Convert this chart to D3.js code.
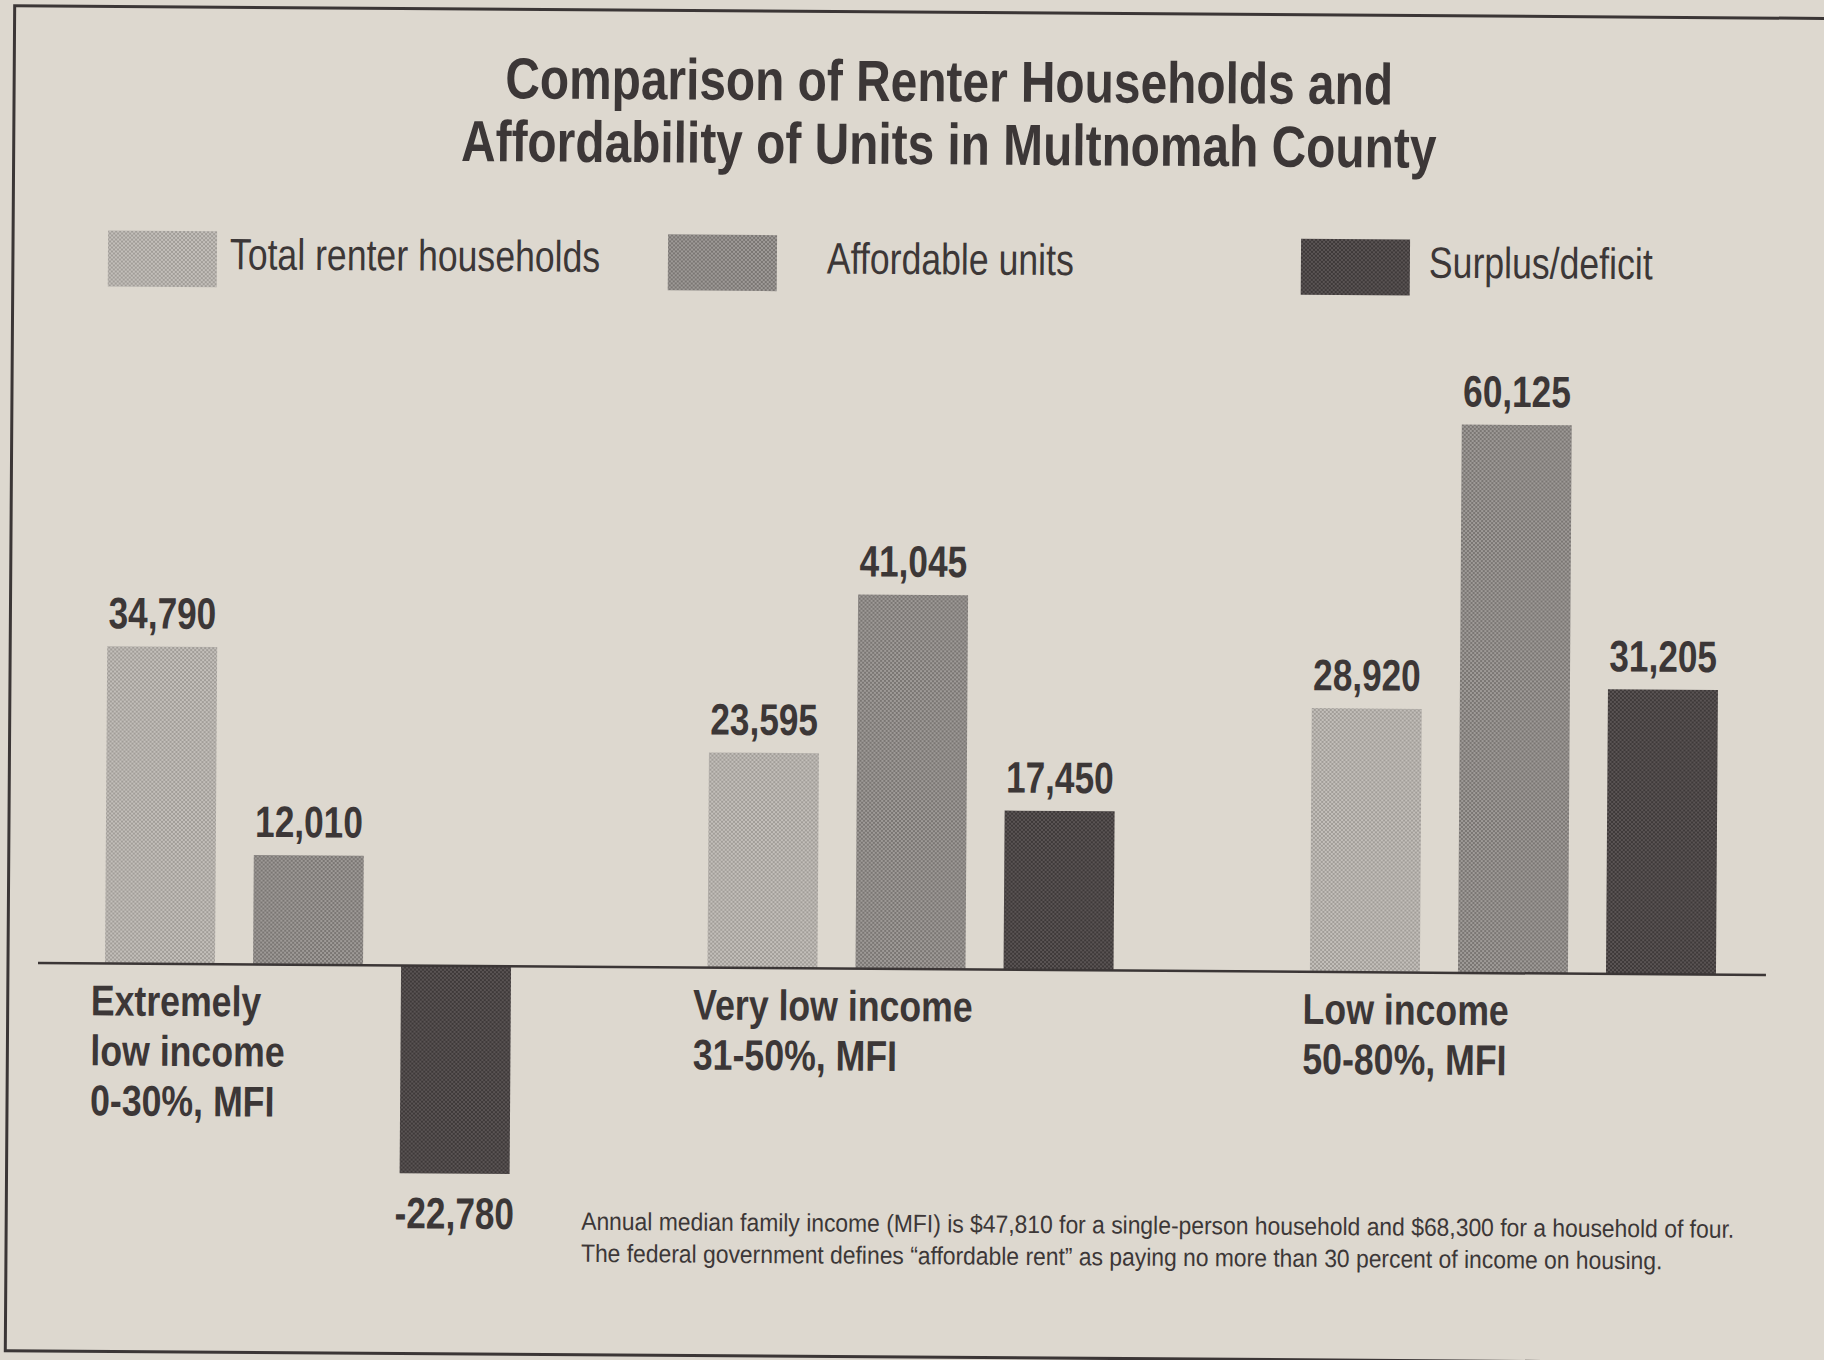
<!DOCTYPE html>
<html>
<head>
<meta charset="utf-8">
<script src="https://cdn.jsdelivr.net/npm/d3@7"></script>
<style>
  html, body { margin: 0; padding: 0; background: #ddd8cf; }
  #chart-container { width: 1824px; height: 1360px; }
  text { font-family: "Liberation Sans", Arial, sans-serif; fill: #3c3737; }
</style>
</head>
<body>
<div id="chart-container"></div>
<script>
// chart values
const titleLines = ["Comparison of Renter Households and", "Affordability of Units in Multnomah County"];
const seriesNames = ["Total renter households", "Affordable units", "Surplus/deficit"];
const groupLabels = [
    ["Extremely", "low income", "0-30%, MFI"],
    ["Very low income", "31-50%, MFI"],
    ["Low income", "50-80%, MFI"]
];
const totalRenters = [34790, 23595, 28920];
const affordableUnits = [12010, 41045, 60125];
const surplusDeficit = [-22780, 17450, 31205];
const noteLines = [
    "Annual median family income (MFI) is $47,810 for a single-person household and $68,300 for a household of four.",
    "The federal government defines \u201caffordable rent\u201d as paying no more than 30 percent of income on housing."
];

document.addEventListener('DOMContentLoaded', function() {
    const width = 1824;
    const height = 1360;
    const baseY = 969;

    const svg = d3.select("#chart-container").append("svg")
        .attr("width", width)
        .attr("height", height);

    svg.append("rect")
        .attr("width", width)
        .attr("height", height)
        .attr("fill", "#ddd8cf");

    // squeeze text horizontally, the original uses a condensed face
    function condense(sel, k) {
        sel.each(function() {
            const t = d3.select(this);
            const tx = +t.attr("x");
            const ty = +t.attr("y");
            t.attr("x", 0)
                .attr("y", 0)
                .attr("transform", `translate(${tx},${ty}) scale(${k},1)`);
        });
    }

    // halftone-ish fills, one per series
    const fills = [
        {base: "#c3bfba", dot: "#a19d98"},
        {base: "#9e9a97", dot: "#7a7673"},
        {base: "#5a5454", dot: "#3e3939"}
    ];
    const defs = svg.append("defs");
    fills.forEach((f, i) => {
        const p = defs.append("pattern")
            .attr("id", "fill" + i)
            .attr("width", 4)
            .attr("height", 4)
            .attr("patternUnits", "userSpaceOnUse");
        p.append("rect").attr("width", 4).attr("height", 4).attr("fill", f.base);
        p.append("rect").attr("width", 2).attr("height", 2).attr("fill", f.dot);
        p.append("rect").attr("x", 2).attr("y", 2).attr("width", 2).attr("height", 2).attr("fill", f.dot);
    });

    // the scanned page is slightly tilted
    const g = svg.append("g")
        .attr("transform", "rotate(0.4, 900, 680)");

    g.append("rect")
        .attr("x", 10)
        .attr("y", 12)
        .attr("width", 1950)
        .attr("height", 1345)
        .attr("fill", "none")
        .attr("stroke", "#3b3636")
        .attr("stroke-width", 3);

    // title
    g.append("g")
        .selectAll("text")
        .data(titleLines)
        .join("text")
        .attr("x", 945)
        .attr("y", (d, i) => 101 + i * 63)
        .attr("text-anchor", "middle")
        .style("font-size", "58px")
        .style("font-weight", "bold")
        .text(d => d)
        .call(condense, 0.825);

    // legend
    const legendX = [105, 665, 1298];
    const legendTextX = [227, 824, 1426];
    const legend = g.append("g")
        .selectAll("g")
        .data(seriesNames)
        .join("g");

    legend.append("rect")
        .attr("x", (d, i) => legendX[i])
        .attr("y", 236)
        .attr("width", 109)
        .attr("height", 56)
        .attr("fill", (d, i) => `url(#fill${i})`);

    legend.append("text")
        .attr("x", (d, i) => legendTextX[i])
        .attr("y", 274)
        .style("font-size", "44px")
        .text(d => d)
        .call(condense, 0.81);

    // scales
    const x0 = d3.scaleBand()
        .domain(d3.range(groupLabels.length))
        .range([107, 1718])
        .paddingInner(0.326)
        .paddingOuter(0);

    const x1 = d3.scaleBand()
        .domain(seriesNames)
        .range([0, x0.bandwidth()])
        .paddingInner(0.257);

    const y = d3.scaleLinear()
        .domain([-25000, 65000])
        .range([baseY + 228, baseY - 592.8]);

    const valueArrays = [totalRenters, affordableUnits, surplusDeficit];
    const rows = groupLabels.flatMap((lab, i) =>
        seriesNames.map((s, j) => ({group: i, key: s, idx: j, value: valueArrays[j][i]})));

    const fmt = d3.formatLocale({decimal: ".", thousands: ",", grouping: [3], currency: ["$", ""], minus: "-"}).format(",");

    g.append("g")
        .selectAll("rect")
        .data(rows)
        .join("rect")
        .attr("x", d => x0(d.group) + x1(d.key))
        .attr("y", d => y(Math.max(0, d.value)))
        .attr("width", x1.bandwidth())
        .attr("height", d => Math.abs(y(d.value) - y(0)))
        .attr("fill", d => `url(#fill${d.idx})`);

    g.append("g")
        .selectAll("text")
        .data(rows)
        .join("text")
        .attr("x", d => x0(d.group) + x1(d.key) + x1.bandwidth() / 2)
        .attr("y", d => d.value >= 0 ? y(d.value) - 18 : y(d.value) + 55)
        .attr("text-anchor", "middle")
        .style("font-size", "44px")
        .style("font-weight", "bold")
        .text(d => fmt(d.value))
        .call(condense, 0.8);

    // zero line
    g.append("line")
        .attr("x1", 40)
        .attr("x2", 1768)
        .attr("y1", y(0))
        .attr("y2", y(0))
        .attr("stroke", "#3b3636")
        .attr("stroke-width", 2.5);

    // category labels under the zero line, one text per line
    const catDx = [-14, -14, -7];
    const catLines = groupLabels.flatMap((lines, i) => lines.map((t, k) => ({group: i, line: k, text: t})));
    g.append("g")
        .selectAll("text")
        .data(catLines)
        .join("text")
        .attr("x", d => x0(d.group) + catDx[d.group])
        .attr("y", d => y(0) + 52 + d.line * 50)
        .style("font-size", "43px")
        .style("font-weight", "bold")
        .text(d => d.text)
        .call(condense, 0.83);

    // footnote
    g.append("g")
        .selectAll("text")
        .data(noteLines)
        .join("text")
        .attr("x", 585)
        .attr("y", (d, i) => 1232 + i * 32)
        .style("font-size", "25px")
        .text(d => d)
        .call(condense, 0.915);
});
</script>
</body>
</html>
